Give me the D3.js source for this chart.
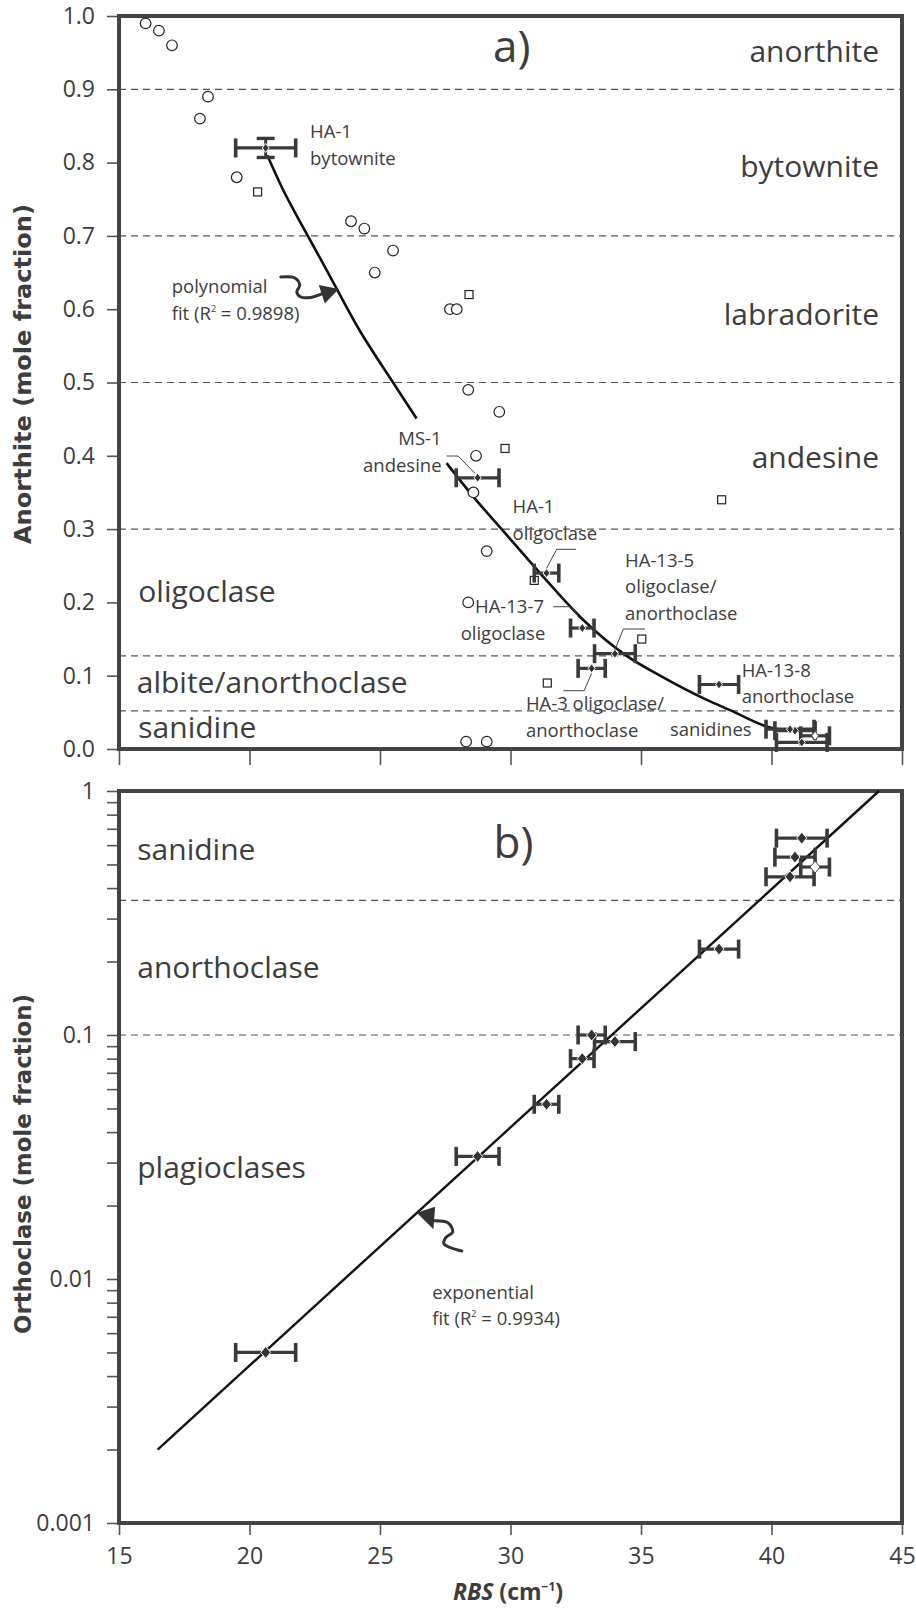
<!DOCTYPE html>
<html>
<head>
<meta charset="utf-8">
<script src="https://cdn.jsdelivr.net/npm/d3@7"></script>
<style>
  body { margin: 0; background: #fff; }
  text { font-family: "Open Sans", sans-serif; fill: #3d3d3d; }
</style>
</head>
<body>
<div id="chart"></div>
<script>
// ---- data ----
const rbsTicks = [15, 20, 25, 30, 35, 40, 45];
const anTicks = [0, 0.1, 0.2, 0.3, 0.4, 0.5, 0.6, 0.7, 0.8, 0.9, 1.0];
const orTicks = [0.001, 0.01, 0.1, 1];

// literature points, panel a
const circleRbs = [16.02, 16.53, 17.03, 18.41, 18.10, 19.51, 23.89, 24.40, 25.50, 24.80, 27.68, 27.94, 28.38, 29.57, 28.68, 28.58, 29.09, 28.38, 28.30, 29.09];
const circleAn  = [0.99, 0.98, 0.96, 0.89, 0.86, 0.78, 0.72, 0.71, 0.68, 0.65, 0.60, 0.60, 0.49, 0.46, 0.40, 0.35, 0.27, 0.20, 0.01, 0.01];
const squareRbs = [20.31, 28.41, 29.79, 38.09, 30.91, 35.03, 31.41];
const squareAn  = [0.76, 0.62, 0.41, 0.34, 0.23, 0.15, 0.09];

// measured samples (both panels)
const sampleRbs    = [20.62, 28.74, 31.38, 32.75, 33.11, 34.00, 37.99, 41.16, 40.90, 41.67, 40.71];
const sampleRbsErr = [1.15, 0.82, 0.47, 0.45, 0.52, 0.78, 0.75, 0.97, 0.77, 0.55, 0.92];
const sampleAn     = [0.82, 0.37, 0.24, 0.165, 0.11, 0.13, 0.088, 0.009, 0.025, 0.018, 0.027];
const sampleAnErr  = [0.013, 0, 0, 0, 0, 0, 0, 0, 0, 0, 0];
const sampleOr     = [0.005, 0.0318, 0.052, 0.080, 0.100, 0.094, 0.225, 0.641, 0.536, 0.488, 0.445];
const sampleOpen   = [false, false, false, false, false, false, false, false, false, true, false];

// fit curves as traced
const polyFit1 = [[20.68, 0.81], [21.23, 0.767], [22.25, 0.699], [22.96, 0.653], [24.17, 0.574], [25.50, 0.50], [26.40, 0.451]];
const polyFit2 = [[27.55, 0.39], [28.58, 0.344], [29.66, 0.30], [31.13, 0.24], [32.79, 0.176], [34.45, 0.127], [35.73, 0.100], [37.52, 0.067], [38.41, 0.053], [39.88, 0.030], [40.40, 0.026]];
const expFit = [[16.48, 0.002], [44.12, 1]];

// class boundaries
const anBounds = [0.9, 0.7, 0.5, 0.3, 0.127, 0.052];
const orBounds = [0.356, 0.1];

// ---- layout ----
const W = 916, H = 1611;
const left = 119, right = 902;
const topA = 16, botA = 749, topB = 791, botB = 1523;
const ink = '#3d3d3d';

const x = d3.scaleLinear().domain([15, 45]).range([left, right]);
const yA = d3.scaleLinear().domain([0, 1]).range([botA, topA]);
const yB = d3.scaleLog().domain([0.001, 1]).range([botB, topB]);

const svg = d3.select('#chart').append('svg')
  .attr('width', W)
  .attr('height', H);

// dashed class boundaries
svg.selectAll('.bandA')
  .data(anBounds)
  .enter().append('line')
  .attr('x1', left).attr('x2', right)
  .attr('y1', d => yA(d)).attr('y2', d => yA(d))
  .attr('stroke', '#555').attr('stroke-width', 1.2)
  .attr('stroke-dasharray', '7,5');

svg.selectAll('.bandB')
  .data(orBounds)
  .enter().append('line')
  .attr('x1', left).attr('x2', right)
  .attr('y1', d => yB(d)).attr('y2', d => yB(d))
  .attr('stroke', '#555').attr('stroke-width', 1.2)
  .attr('stroke-dasharray', '7,5');

// axes
function styleAxis(g) {
  g.select('.domain').remove();
  g.selectAll('.tick line').attr('stroke', '#555').attr('stroke-width', 1.6);
  g.selectAll('.tick text').style('font-size', '23px').attr('fill', ink);
}

svg.append('g')
  .attr('transform', `translate(${left},0)`)
  .call(d3.axisLeft(yA).tickValues(anTicks).tickSize(12).tickPadding(12).tickFormat(d3.format('.1f')))
  .call(styleAxis);

svg.append('g')
  .attr('transform', `translate(0,${botA})`)
  .call(d3.axisBottom(x).tickValues(rbsTicks).tickSize(16).tickFormat(''))
  .call(styleAxis);

svg.append('g')
  .attr('transform', `translate(${left},0)`)
  .call(d3.axisLeft(yB).tickValues(yB.ticks()).tickSize(12).tickPadding(12)
    .tickFormat(d => orTicks.some(t => Math.abs(t - d) < 1e-9) ? String(d) : ''))
  .call(styleAxis);

svg.append('g')
  .attr('transform', `translate(0,${botB})`)
  .call(d3.axisBottom(x).tickValues(rbsTicks).tickSize(12).tickPadding(13).tickFormat(d3.format('d')))
  .call(styleAxis);

// frames
[[topA, botA], [topB, botB]].forEach(([t, b]) => {
  svg.append('rect')
    .attr('x', left).attr('y', t)
    .attr('width', right - left).attr('height', b - t)
    .attr('fill', 'none').attr('stroke', '#444').attr('stroke-width', 4);
});

// fit lines
const lineA = d3.line().x(d => x(d[0])).y(d => yA(d[1])).curve(d3.curveMonotoneX);
const lineB = d3.line().x(d => x(d[0])).y(d => yB(d[1]));
[polyFit1, polyFit2].forEach(p => {
  svg.append('path').attr('d', lineA(p))
    .attr('fill', 'none').attr('stroke', '#111').attr('stroke-width', 2.6);
});
svg.append('path').attr('d', lineB(expFit))
  .attr('fill', 'none').attr('stroke', '#111').attr('stroke-width', 2.4);

// literature markers
svg.selectAll('.circ')
  .data(circleRbs)
  .enter().append('circle')
  .attr('cx', d => x(d))
  .attr('cy', (d, i) => yA(circleAn[i]))
  .attr('r', 5.3)
  .attr('fill', 'white').attr('stroke', '#222').attr('stroke-width', 1.2);

svg.selectAll('.sq')
  .data(squareRbs)
  .enter().append('rect')
  .attr('x', d => x(d) - 4)
  .attr('y', (d, i) => yA(squareAn[i]) - 4)
  .attr('width', 8).attr('height', 8)
  .attr('fill', 'white').attr('stroke', '#222').attr('stroke-width', 1.2);

// error bars + diamonds
function drawSamples(yScale, yVals, yErr, dw, dh) {
  const g = svg.append('g');
  sampleRbs.forEach((r, i) => {
    const cy = yScale(yVals[i]);
    const x0 = x(r - sampleRbsErr[i]), x1 = x(r + sampleRbsErr[i]);
    g.append('line').attr('x1', x0).attr('x2', x1).attr('y1', cy).attr('y2', cy)
      .attr('stroke', '#3a3a3a').attr('stroke-width', 3.2);
    [x0, x1].forEach(cx => {
      g.append('line').attr('x1', cx).attr('x2', cx).attr('y1', cy - 9.5).attr('y2', cy + 9.5)
        .attr('stroke', '#3a3a3a').attr('stroke-width', 3.6);
    });
    if (yErr && yErr[i] > 0) {
      const ya = yScale(yVals[i] + yErr[i]), yb = yScale(yVals[i] - yErr[i]);
      const cx = x(r);
      g.append('line').attr('x1', cx).attr('x2', cx).attr('y1', ya).attr('y2', yb)
        .attr('stroke', '#3a3a3a').attr('stroke-width', 3);
      [ya, yb].forEach(yy => {
        g.append('line').attr('x1', cx - 9).attr('x2', cx + 9).attr('y1', yy).attr('y2', yy)
          .attr('stroke', '#3a3a3a').attr('stroke-width', 3.4);
      });
    }
  });
  sampleRbs.forEach((r, i) => {
    const cx = x(r), cy = yScale(yVals[i]);
    g.append('path')
      .attr('d', `M${cx},${cy - dh / 2}L${cx + dw / 2},${cy}L${cx},${cy + dh / 2}L${cx - dw / 2},${cy}Z`)
      .attr('fill', sampleOpen[i] ? 'white' : '#333')
      .attr('stroke', sampleOpen[i] ? '#444' : 'white')
      .attr('stroke-width', 1);
  });
}
drawSamples(yA, sampleAn, sampleAnErr, 7, 9);
drawSamples(yB, sampleOr, null, 10, 12);

// class names
const bigFont = '30px';
function bigLabel(txt, xv, yv, yScale, anchor) {
  svg.append('text')
    .attr('x', x(xv)).attr('y', yScale(yv))
    .attr('text-anchor', anchor)
    .style('font-size', bigFont)
    .text(txt);
}
bigLabel('anorthite', 44.12, 0.9377, yA, 'end');
bigLabel('bytownite', 44.12, 0.781, yA, 'end');
bigLabel('labradorite', 44.12, 0.578, yA, 'end');
bigLabel('andesine', 44.12, 0.383, yA, 'end');
bigLabel('oligoclase', 15.74, 0.201, yA, 'start');
bigLabel('albite/anorthoclase', 15.68, 0.076, yA, 'start');
bigLabel('sanidine', 15.74, 0.0146, yA, 'start');
bigLabel('sanidine', 15.70, 0.52, yB, 'start');
bigLabel('anorthoclase', 15.70, 0.172, yB, 'start');
bigLabel('plagioclases', 15.70, 0.026, yB, 'start');

svg.append('text').attr('x', x(29.33)).attr('y', yA(0.9377))
  .style('font-size', '44px').text('a)');
svg.append('text').attr('x', x(29.35)).attr('y', yB(0.530))
  .style('font-size', '44px').text('b)');

// sample annotations (panel a)
const lh = 26.7;
function note(lines, xv, yv, anchor) {
  lines.forEach((t, k) => {
    svg.append('text')
      .attr('x', x(xv)).attr('y', yA(yv) + k * lh)
      .attr('text-anchor', anchor || 'start')
      .style('font-size', '18.5px')
      .text(t);
  });
}
note(['HA-1', 'bytownite'], 22.32, 0.8332);
note(['MS-1', 'andesine'], 27.36, 0.4147, 'end');
note(['HA-1', 'oligoclase'], 30.08, 0.322);
note(['HA-13-7'], 28.64, 0.1851);
note(['oligoclase'], 28.09, 0.1487);
note(['HA-13-5', 'oligoclase/', 'anorthoclase'], 34.39, 0.2487);
note(['HA-3 oligoclase/', 'anorthoclase'], 30.59, 0.0532);
note(['HA-13-8', 'anorthoclase'], 38.86, 0.0986);
note(['sanidines'], 36.11, 0.0177);

// leader lines
const leaders = [
  [[27.55, 0.3997], [27.99, 0.3997], [28.64, 0.3761]],
  [[32.51, 0.2724], [31.77, 0.2724], [31.38, 0.2465]],
  [[31.64, 0.1941], [32.34, 0.1941], [32.64, 0.1783]],
  [[35.15, 0.1637], [34.32, 0.1637], [34.00, 0.1351]],
  [[32.02, 0.0795], [32.82, 0.0795], [33.11, 0.1033]]
];
const leaderLine = d3.line().x(d => x(d[0])).y(d => yA(d[1]));
leaders.forEach(l => {
  svg.append('path').attr('d', leaderLine(l))
    .attr('fill', 'none').attr('stroke', '#444').attr('stroke-width', 1);
});

// fit annotations with curly arrows
function fitNote(lines, r2, xv, yv, yScale) {
  const t0 = svg.append('text').attr('x', x(xv)).attr('y', yScale(yv)).style('font-size', '18.5px');
  t0.text(lines);
  const t1 = svg.append('text').attr('x', x(xv)).attr('y', yScale(yv) + lh).style('font-size', '18.5px');
  t1.append('tspan').text('fit (R');
  t1.append('tspan').attr('dy', -8).style('font-size', '9px').text('2');
  t1.append('tspan').attr('dy', 8).text(' = ' + r2 + ')');
}
fitNote('polynomial', '0.9898', 17.02, 0.6221, yA);
fitNote('exponential', '0.9934', 27.0, 0.0083, yB);

function curlyArrow(tx, ty, tail, head) {
  const curve = d3.line().curve(d3.curveCatmullRom);
  svg.append('path')
    .attr('d', curve(tail.map(p => [tx + p[0], ty + p[1]])))
    .attr('fill', 'none').attr('stroke', '#333').attr('stroke-width', 3).attr('stroke-linecap', 'round');
  svg.append('path')
    .attr('d', `M${tx},${ty}L${tx + head[0][0]},${ty + head[0][1]}L${tx + head[1][0]},${ty + head[1][1]}Z`)
    .attr('fill', '#333');
}
curlyArrow(x(23.42), yA(0.6276),
  [[-58, -12], [-44, -11], [-39, -4], [-42, 3], [-38, 8], [-28, 8.5], [-17, 5]],
  [[-20, -4], [-14, 14.5]]);
curlyArrow(x(26.41), yB(0.0187),
  [[17, 8], [31, 10], [36, 19], [29, 25], [27, 31], [45, 38.4]],
  [[18.3, -6], [16.6, 16.7]]);

// axis titles
function yTitle(txt, cy) {
  svg.append('text')
    .attr('transform', `translate(31,${cy}) rotate(-90)`)
    .attr('text-anchor', 'middle')
    .attr('textLength', 340)
    .attr('lengthAdjust', 'spacingAndGlyphs')
    .style('font-family', '"DejaVu Sans", sans-serif')
    .style('font-weight', 'bold').style('font-size', '23px')
    .text(txt);
}
yTitle('Anorthite (mole fraction)', 374);
yTitle('Orthoclase (mole fraction)', 1164);

const xt = svg.append('text')
  .attr('x', 508).attr('y', 1600)
  .attr('text-anchor', 'middle')
  .style('font-weight', 'bold').style('font-size', '23px');
xt.append('tspan').style('font-style', 'italic').text('RBS');
xt.append('tspan').text(' (cm');
xt.append('tspan').attr('dy', -9).style('font-size', '12px').text('−1');
xt.append('tspan').attr('dy', 9).text(')');
</script>
</body>
</html>
